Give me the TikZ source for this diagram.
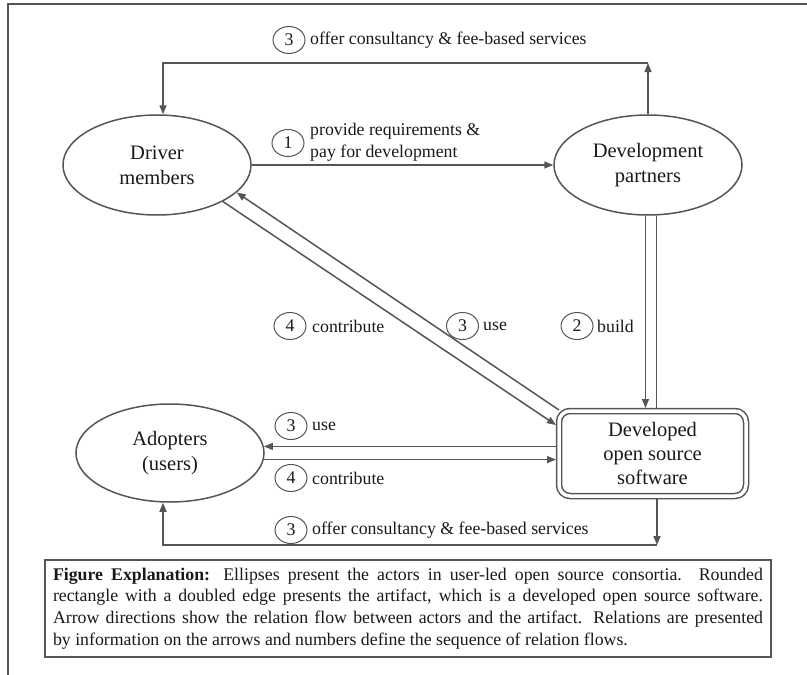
\documentclass[tikz,border=0pt]{standalone}
\usepackage{fontspec}
\setmainfont{Liberation Serif}
\usetikzlibrary{arrows.meta,shapes.geometric,calc}
\definecolor{lc}{RGB}{85,85,85}
\definecolor{tx}{RGB}{25,25,25}
\begin{document}
\begin{tikzpicture}[x=1pt,y=-1pt,
  ln/.style={draw=lc, line width=1.5pt},
  arr/.style={draw=lc, line width=1.5pt, -{Triangle[length=9pt,width=7pt]}},
  actor/.style={ellipse, draw=lc, line width=1.5pt, minimum width=188pt, minimum height=100pt,
    inner sep=0pt, align=center, font=\fontsize{20.5}{25}\selectfont, text=tx},
  num/.style={ellipse, draw=lc, line width=1pt, minimum width=32pt, minimum height=27pt,
    inner sep=0pt, font=\fontsize{17.8}{21.7}\selectfont, text=tx},
  lbl/.style={anchor=west, inner sep=0pt, font=\fontsize{17.8}{21.7}\selectfont, text=tx, align=left},
]
\useasboundingbox (0,0) rectangle (807,675);
% frame
\draw[lc, line width=1.2pt] (8,675) -- (8,4) -- (807,4);

% actors
\node[actor] (driver) at (157,165) {Driver\\members};
\node[actor] (partners) at (648,165) {Development\\partners};
\node[actor, minimum height=98pt] (adopters) at (170,453) {Adopters\\(users)};
\node[draw=lc, line width=1.5pt, double=white, double distance=3.5pt, rounded corners=11pt,
  minimum width=187pt, minimum height=85pt, outer sep=3pt, align=center,
  font=\fontsize{20.5}{24}\selectfont, text=tx] (software) at (652.5,453.5)
  {Developed\\open source\\software};

% top connector
\coordinate (tl) at (163,63);
\coordinate (tr) at (648,63);
\draw[arr] (partners.north) -- (tr);
\draw[arr] (tr) -- (tl) -- (tl |- driver.north);

% 1
\draw[arr] (driver.east) -- (partners.west);

% 2 build
\coordinate (v1) at ($(partners.south)+(-2.5,0)$);
\coordinate (v2) at ($(partners.south)+(8.5,0)$);
\draw[arr] (v1) -- (v1 |- software.north);
\draw[ln] (v2 |- software.north) -- (v2);

% diagonals
\draw[arr] ($(software.north west)+(3,2)$) -- (driver.-19);
\draw[arr] (driver.-29) -- ($(software.north west)+(0,17)$);

% horizontals
\draw[arr] (software.west |- adopters.4) -- (adopters.4);
\draw[arr] (adopters.-4) -- (software.west |- adopters.-4);

% bottom connector
\coordinate (br) at (657,545);
\coordinate (bl) at (163,545);
\draw[arr] (br |- software.south) -- (br);
\draw[arr] (br) -- (bl) -- (bl |- adopters.south);

% labels
\node[num] (n3a) at (289,40) {3};
\node[lbl] (t3a) at (310,40) {offer consultancy \& fee-based services};
\node[num] (n1) at (288,143) {1};
\node[lbl] (t1) at (310,142.5) {provide requirements \&\\pay for development};
\node[num] (n2) at (577,326) {2};
\node[lbl] (t2) at (597,326) {build};
\node[num] (n4a) at (290,326) {4};
\node[lbl] (t4a) at (312,326) {contribute};
\node[num] (n3b) at (462.5,326) {3};
\node[lbl] (t3b) at (483,326) {use};
\node[num] (n3c) at (291,426) {3};
\node[lbl] (t3c) at (312,426) {use};
\node[num] (n4b) at (291,478) {4};
\node[lbl] (t4b) at (312,478) {contribute};
\node[num] (n3d) at (291,530) {3};
\node[lbl] (t3d) at (312,530) {offer consultancy \& fee-based services};

% caption
\node[draw=lc, line width=1.2pt, text width=710pt, inner xsep=8pt, inner ysep=0pt,
  minimum height=97pt, align=justify, font=\fontsize{17.8}{21.7}\selectfont, text=tx]
  (cap) at (408,608.5)
  {\textbf{Figure Explanation:} Ellipses present the actors in user-led open source consortia. Rounded\linebreak
  rectangle with a doubled edge presents the artifact, which is a developed open source software.\linebreak
  Arrow directions show the relation flow between actors and the artifact. Relations are presented\linebreak
  by information on the arrows and numbers define the sequence of relation flows.};
\end{tikzpicture}
\end{document}
